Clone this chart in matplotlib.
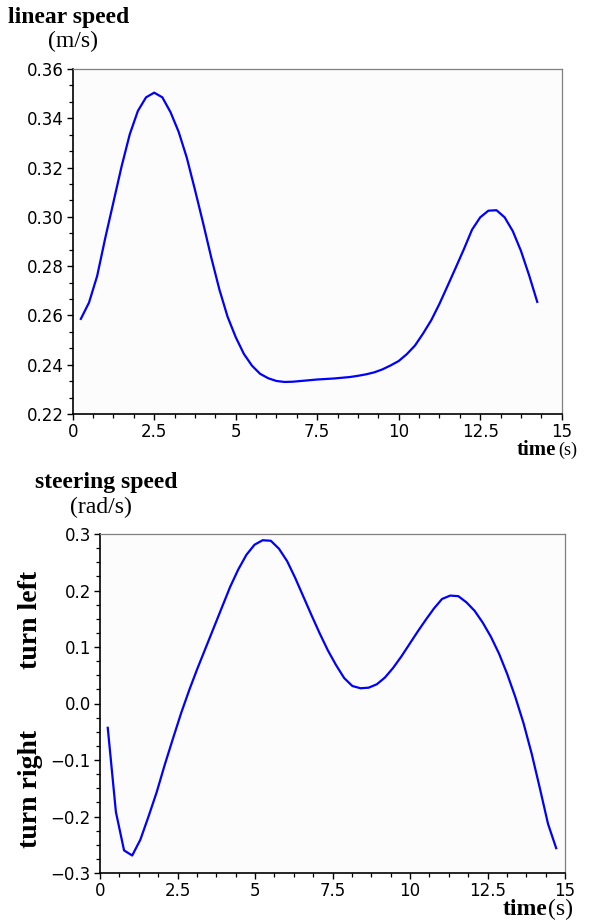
import numpy as np
import matplotlib.pyplot as plt
from matplotlib.ticker import MultipleLocator, FormatStrFormatter

# linear speed (m/s), sampled every 0.25 s
t_lin = np.arange(1, 58) * 0.25
v_lin = [0.2586, 0.2652, 0.2760, 0.2915, 0.3060, 0.3205, 0.3335, 0.3430, 0.3485, 0.3504,
         0.3485, 0.3425, 0.3345, 0.3240, 0.3110, 0.2975, 0.2835, 0.2705, 0.2595, 0.2512,
         0.2444, 0.2396, 0.2363, 0.2345, 0.2334, 0.2330, 0.2331, 0.2334, 0.2337, 0.2340,
         0.2342, 0.2344, 0.2347, 0.2350, 0.2355, 0.2361, 0.2369, 0.2381, 0.2397, 0.2415,
         0.2443, 0.2478, 0.2527, 0.2581, 0.2647, 0.2720, 0.2794, 0.2869, 0.2948, 0.2998,
         0.3025, 0.3027, 0.2998, 0.2942, 0.2862, 0.2763, 0.2655]

# steering speed (rad/s)
t_str = 0.25 + np.arange(56) * 0.263
w_str = [-0.043, -0.192, -0.260, -0.269, -0.241, -0.200, -0.157, -0.108, -0.062, -0.017,
         0.024, 0.062, 0.098, 0.134, 0.170, 0.206, 0.237, 0.263, 0.281, 0.289,
         0.288, 0.274, 0.252, 0.222, 0.189, 0.156, 0.124, 0.094, 0.068, 0.045,
         0.031, 0.027, 0.028, 0.034, 0.046, 0.063, 0.083, 0.105, 0.127, 0.148,
         0.168, 0.185, 0.191, 0.190, 0.179, 0.164, 0.143, 0.118, 0.088, 0.052,
         0.011, -0.035, -0.089, -0.150, -0.213, -0.256]

W, H = 598, 924
fig = plt.figure(figsize=(W / 100, H / 100), dpi=100)
fig.patch.set_facecolor('white')

def px(x, y):
    return x / W, 1 - y / H

def style(ax):
    ax.set_facecolor('#fcfcfc')
    for s in ['left', 'bottom']:
        ax.spines[s].set_color('black')
        ax.spines[s].set_linewidth(1.2)
    for s in ['top', 'right']:
        ax.spines[s].set_color('#7f7f7f')
        ax.spines[s].set_linewidth(0.9)
    ax.tick_params(which='major', direction='out', length=4.5, width=1.0, labelsize=12, pad=2)
    ax.tick_params(which='minor', direction='out', length=3, width=0.9)
    ax.tick_params(top=False, right=False, which='both')

ax1 = fig.add_axes([72.7 / W, 1 - 414 / H, (561.7 - 72.7) / W, (414 - 69) / H])
ax1.plot(t_lin, v_lin, color='#0000ff', lw=1.6)
ax1.set_xlim(0, 15)
ax1.set_ylim(0.22, 0.36)
ax1.xaxis.set_major_locator(MultipleLocator(2.5))
ax1.xaxis.set_minor_locator(MultipleLocator(0.625))
ax1.yaxis.set_major_locator(MultipleLocator(0.02))
ax1.yaxis.set_minor_locator(MultipleLocator(0.02 / 3))
ax1.yaxis.set_major_formatter(FormatStrFormatter('%.2f'))
ax1.set_xticks([0, 2.5, 5, 7.5, 10, 12.5, 15])
ax1.set_xticklabels(['0', '2.5', '5', '7.5', '10', '12.5', '15'])
style(ax1)

ax2 = fig.add_axes([100 / W, 1 - 873 / H, (565 - 100) / W, (873 - 534) / H])
ax2.plot(t_str, w_str, color='#0000ff', lw=1.6)
ax2.set_xlim(0, 15)
ax2.set_ylim(-0.3, 0.3)
ax2.xaxis.set_major_locator(MultipleLocator(2.5))
ax2.xaxis.set_minor_locator(MultipleLocator(0.625))
ax2.yaxis.set_major_locator(MultipleLocator(0.1))
ax2.yaxis.set_minor_locator(MultipleLocator(0.025))
ax2.set_xticks([0, 2.5, 5, 7.5, 10, 12.5, 15])
ax2.set_xticklabels(['0', '2.5', '5', '7.5', '10', '12.5', '15'])
ax2.set_yticks([-0.3, -0.2, -0.1, 0.0, 0.1, 0.2, 0.3])
ax2.set_yticklabels(['\u22120.3', '\u22120.2', '\u22120.1', '0.0', '0.1', '0.2', '0.3'])
style(ax2)

serif = 'Liberation Serif'
fig.text(*px(8, 23), 'linear speed', family=serif, weight='bold', fontsize=17, va='baseline', ha='left')
fig.text(*px(48, 47), '(m/s)', family=serif, fontsize=17, va='baseline', ha='left')
fig.text(*px(35, 488), 'steering speed', family=serif, weight='bold', fontsize=17, va='baseline', ha='left')
fig.text(*px(70, 513), '(rad/s)', family=serif, fontsize=17, va='baseline', ha='left')

fig.text(*px(517, 455), 'time', family=serif, weight='bold', fontsize=15, va='baseline', ha='left')
fig.text(*px(558, 455), '(s)', family=serif, fontsize=13, va='baseline', ha='left')
fig.text(*px(503, 915), 'time', family=serif, weight='bold', fontsize=17, va='baseline', ha='left')
fig.text(*px(548, 915), '(s)', family=serif, fontsize=17, va='baseline', ha='left')

fig.text(*px(18, 620), 'turn left', family=serif, weight='bold', fontsize=20, rotation=90, va='center', ha='left')
fig.text(*px(18, 789), 'turn right', family=serif, weight='bold', fontsize=20, rotation=90, va='center', ha='left')

fig.savefig('out.png', dpi=100)
